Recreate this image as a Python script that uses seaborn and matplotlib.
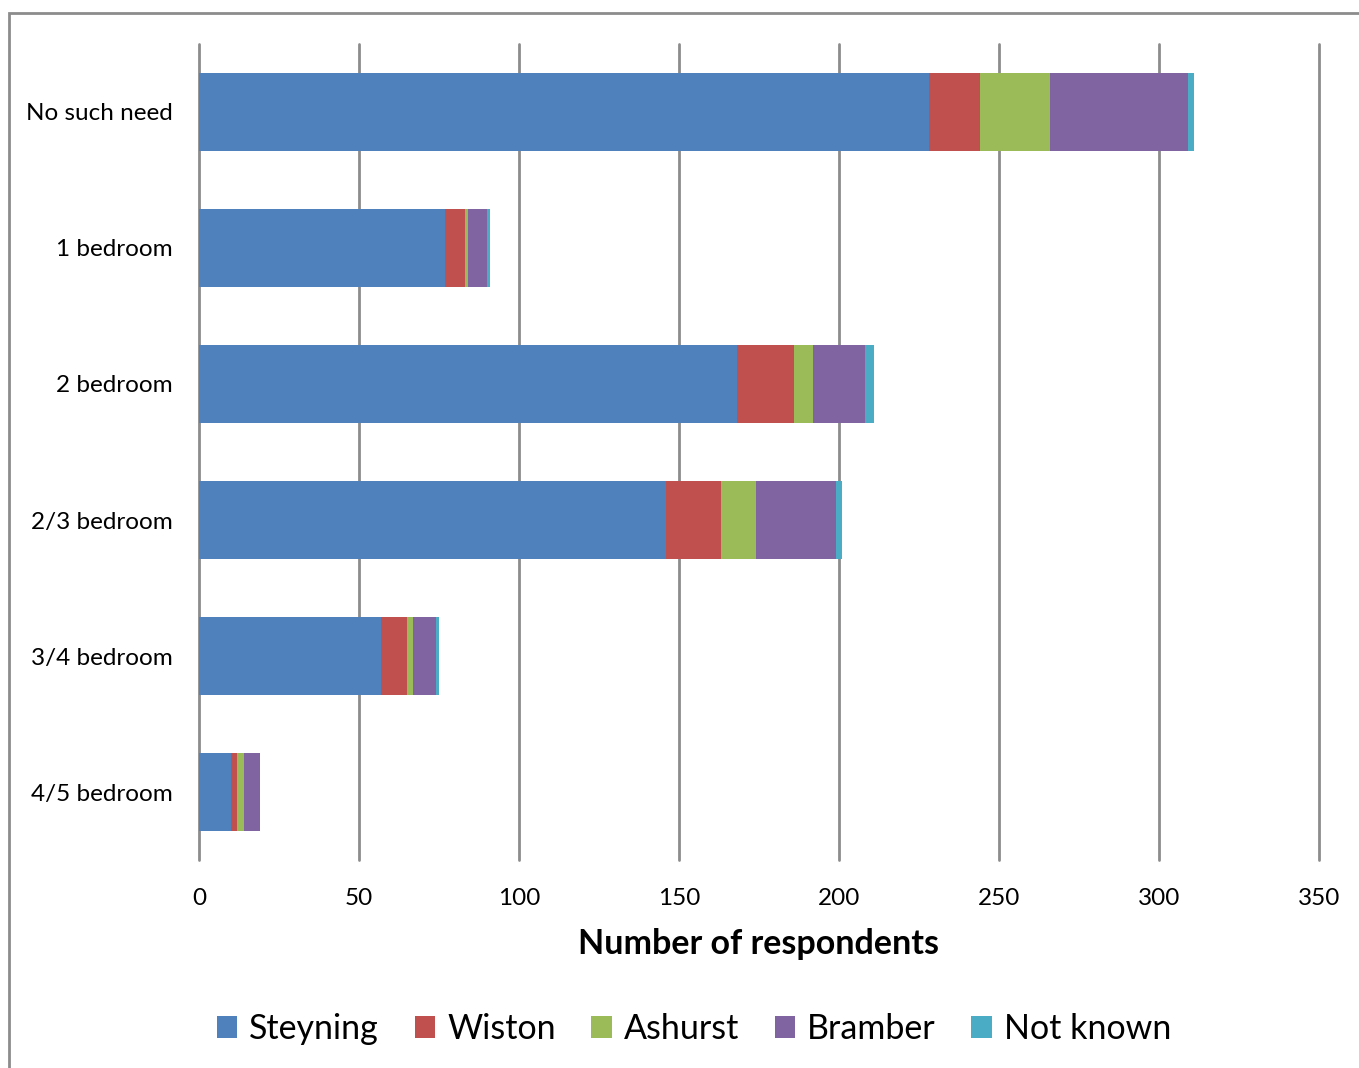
import pandas as pd
import seaborn as sns
import matplotlib.pyplot as plt
from matplotlib.patches import Patch, Rectangle

# Data
categories = ['No such need', '1 bedroom', '2 bedroom', '2/3 bedroom', '3/4 bedroom', '4/5 bedroom']
steyning = [228, 77, 168, 146, 57, 10]
wiston = [16, 6, 18, 17, 8, 2]
ashurst = [22, 1, 6, 11, 2, 2]
bramber = [43, 6, 16, 25, 7, 5]
not_known = [2, 1, 3, 2, 1, 0]

series = ['Steyning', 'Wiston', 'Ashurst', 'Bramber', 'Not known']
colors = ['#4F81BD', '#C0504D', '#9BBB59', '#8064A2', '#4BACC6']

df = pd.DataFrame({'category': categories, 'Steyning': steyning, 'Wiston': wiston,
                   'Ashurst': ashurst, 'Bramber': bramber, 'Not known': not_known})

# running totals so the bars can be layered into a stack
cum = df[series].cumsum(axis=1)
cum['category'] = df['category']

sns.set_style('white')
plt.rcParams['font.family'] = ['Lato', 'DejaVu Sans']
plt.rcParams['text.color'] = 'black'

fig = plt.figure(figsize=(13.59, 10.68), dpi=100)
ax = fig.add_axes([199 / 1359, 1 - 860 / 1068, 1120 / 1359, 816 / 1068])

# draw the biggest total first, then overlay the smaller ones
for name, color in reversed(list(zip(series, colors))):
    sns.barplot(data=cum, x=name, y='category', order=categories, color=color,
                orient='h', width=0.57, ax=ax, saturation=1, zorder=3,
                edgecolor='none', linewidth=0)

ax.set_xlim(0, 350)
ax.set_xticks(range(0, 351, 50))
ax.grid(axis='x', color='#8c8c8c', linewidth=2, zorder=0)
ax.grid(axis='y', visible=False)
for line in ax.get_xgridlines():
    line.set_clip_on(False)
for s in ax.spines.values():
    s.set_visible(False)
ax.tick_params(axis='both', length=0, labelsize=17.5, colors='black')
ax.tick_params(axis='x', pad=20)
ax.tick_params(axis='y', pad=19)
ax.set_ylabel('')
ax.set_xlabel('Number of respondents', fontsize=24.5, fontweight='bold',
              labelpad=14, color='black')

handles = [Patch(facecolor=c, edgecolor='none') for c in colors]
fig.legend(handles, series, loc='center', bbox_to_anchor=(694 / 1359, 1 - 1029 / 1068),
           ncol=5, frameon=False, fontsize=24.5, handlelength=0.6, handleheight=0.6,
           handletextpad=0.35, columnspacing=1.05)

# outer chart frame
fig.patches.append(Rectangle((9 / 1359, -0.1), 1.2, 1 - 13 / 1068 + 0.1,
                             transform=fig.transFigure, fill=False,
                             edgecolor='#8c8c8c', linewidth=2))

fig.savefig('out.png', dpi=100)
